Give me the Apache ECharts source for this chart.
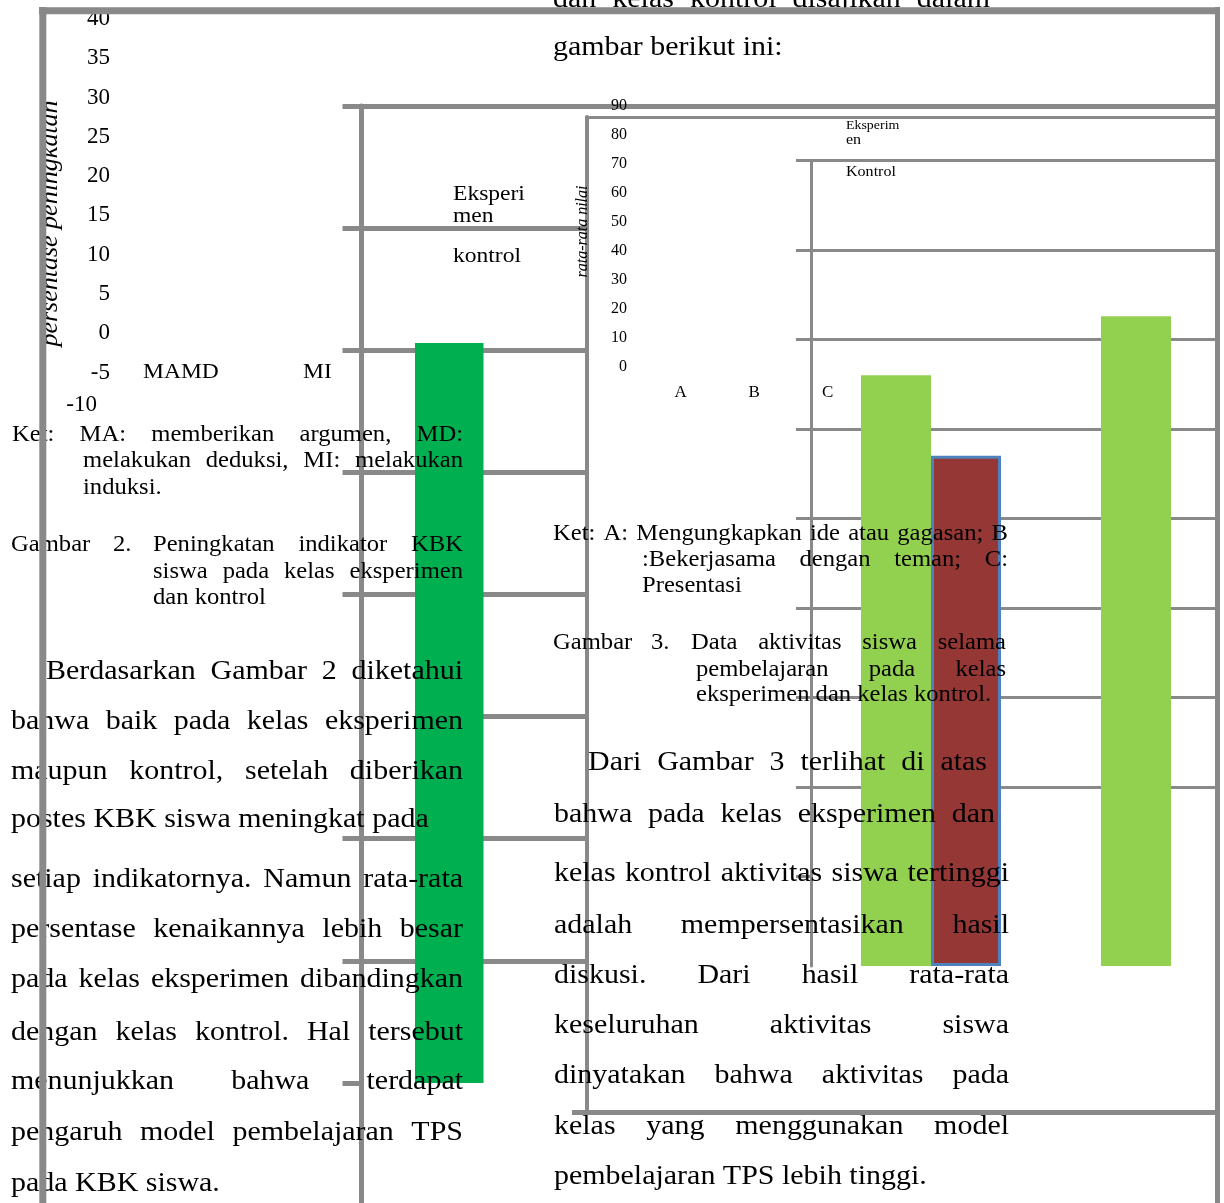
<!DOCTYPE html>
<html>
<head>
<meta charset="utf-8">
<script src="https://cdn.jsdelivr.net/npm/echarts@6/dist/echarts.min.js"></script>
<style>
  html, body { margin: 0; padding: 0; background: #fff; }
  #chart { width: 1224px; height: 1203px; }
</style>
</head>
<body>
<div id="chart"></div>
<script>
// ---- Gambar 2: persentase peningkatan indikator KBK ----
const kbkCategories = ['MA', 'MD', 'MI'];
const kbkEksperimen = [30.3, '-', '-'];
const kbkKontrol = ['-', '-', '-'];
const kbkScale = [-5, 40, 5];                 // min, max, step of the bar scale
const pctTickLabels = [-10, -5, 0, 5, 10, 15, 20, 25, 30, 35, 40];
const kbkLegend = ['Eksperi', 'men', 'kontrol'];

// ---- Gambar 3: rata-rata nilai aktivitas siswa ----
const aktivitasCategories = ['A', 'B', 'C'];
const aktivitasEksperimen = [66, 72.6, '-'];
const aktivitasKontrol = [57, '-', '-'];
const nilaiTicks = [0, 10, 20, 30, 40, 50, 60, 70, 80, 90];
const aktivitasLegend = ['Eksperim', 'en', 'Kontrol'];

const GRAY = '#898989';
const SERIF = '"Liberation Serif", "Times New Roman", serif';
const SX = 1.07;          // page text is set slightly wide
const BODY = 28, CAP = 23;

const measureCtx = document.createElement('canvas').getContext('2d');
function wordWidth(word, size, style) {
  measureCtx.font = (style || 'normal') + ' ' + size + 'px ' + SERIF;
  return measureCtx.measureText(word).width * SX;
}
function textEl(str, x, y, size, extra) {
  const o = Object.assign({ style: 'normal', rotation: 0, align: 'left', scale: SX, z: 8 }, extra || {});
  return {
    type: 'text', x: x, y: y, rotation: o.rotation, scaleX: o.scale, z: o.z, silent: true,
    style: {
      text: str, fontSize: size, fontFamily: SERIF, fontStyle: o.style, fill: '#000',
      align: o.align, verticalAlign: 'middle'
    }
  };
}
// one line of text; when x1 is given the words are spread to fill x0..x1
function textLine(str, x0, y, size, x1) {
  if (x1 == null) return [textEl(str, x0, y, size)];
  const words = str.split(/\s+/);
  const widths = words.map(w => wordWidth(w, size));
  const total = widths.reduce((a, b) => a + b, 0);
  const gap = words.length > 1 ? (x1 - x0 - total) / (words.length - 1) : 0;
  const out = [];
  let x = x0;
  words.forEach((w, i) => { out.push(textEl(w, x, y, size)); x += widths[i] + gap; });
  return out;
}

const lines = [
  // left column captions
  ['Ket: MA: memberikan argumen, MD:', 12, 435, CAP, 463],
  ['melakukan deduksi, MI: melakukan', 83, 461, CAP, 463],
  ['induksi.', 83, 488, CAP],
  ['Gambar', 11, 545, CAP], ['2.', 113, 545, CAP],
  ['Peningkatan indikator KBK', 153, 545, CAP, 463],
  ['siswa pada kelas eksperimen', 153, 572, CAP, 463],
  ['dan kontrol', 153, 598, CAP],
  // left column body
  ['Berdasarkan Gambar 2 diketahui', 46, 672, BODY, 463],
  ['bahwa baik pada kelas eksperimen', 11, 722, BODY, 463],
  ['maupun kontrol, setelah diberikan', 11, 772, BODY, 463],
  ['postes KBK siswa meningkat pada', 11, 820, BODY],
  ['setiap indikatornya. Namun rata-rata', 11, 880, BODY, 463],
  ['persentase kenaikannya lebih besar', 11, 930, BODY, 463],
  ['pada kelas eksperimen dibandingkan', 11, 980, BODY, 463],
  ['dengan kelas kontrol. Hal tersebut', 11, 1033, BODY, 463],
  ['menunjukkan bahwa terdapat', 11, 1082, BODY, 463],
  ['pengaruh model pembelajaran TPS', 11, 1133, BODY, 463],
  ['pada KBK siswa.', 11, 1184, BODY],
  // right column top
  ['dan kelas kontrol disajikan dalam', 553, 0, BODY, 990],
  ['gambar berikut ini:', 553, 48, BODY],
  // right column captions
  ['Ket: A: Mengungkapkan ide atau gagasan; B', 553, 534, CAP, 1008],
  [':Bekerjasama dengan teman; C:', 642, 560, CAP, 1008],
  ['Presentasi', 642, 586, CAP],
  ['Gambar', 553, 643, CAP], ['3.', 651, 643, CAP],
  ['Data aktivitas siswa selama', 691, 643, CAP, 1006],
  ['pembelajaran pada kelas', 696, 670, CAP, 1006],
  ['eksperimen dan kelas kontrol.', 696, 695, CAP],
  // right column body
  ['Dari Gambar 3 terlihat di atas', 588, 763, BODY, 987],
  ['bahwa pada kelas eksperimen dan', 554, 815, BODY, 995],
  ['kelas kontrol aktivitas siswa tertinggi', 554, 874, BODY, 1009],
  ['adalah mempersentasikan hasil', 554, 926, BODY, 1009],
  ['diskusi. Dari hasil rata-rata', 554, 976, BODY, 1009],
  ['keseluruhan aktivitas siswa', 554, 1026, BODY, 1009],
  ['dinyatakan bahwa aktivitas pada', 554, 1076, BODY, 1009],
  ['kelas yang menggunakan model', 554, 1127, BODY, 1009],
  ['pembelajaran TPS lebih tinggi.', 554, 1177, BODY]
];

const graphics = [];
// white plot panel of Gambar 3, laid over the KBK gridlines
graphics.push({ type: 'rect', z: 3, silent: true, shape: { x: 587, y: 117, width: 631, height: 995.5 }, style: { fill: '#fff' } });
// paragraph line masking the KBK gridline segment left of the bar (axis line stays visible)
graphics.push({ type: 'rect', z: 1.5, silent: true, shape: { x: 338, y: 712.5, width: 21, height: 7 }, style: { fill: '#fff' } });
graphics.push({ type: 'rect', z: 1.5, silent: true, shape: { x: 364.2, y: 712.5, width: 50.8, height: 7 }, style: { fill: '#fff' } });
lines.forEach(l => graphics.push(...textLine(l[0], l[1], l[2], l[3], l[4])));

// chart labels
const maW = wordWidth(kbkCategories[0], 22);
graphics.push(textEl(kbkCategories[0], 143, 372.6, 22));
graphics.push(textEl(kbkCategories[1], 143 + maW, 372.6, 22));
graphics.push(textEl(kbkCategories[2], 303, 372.6, 22));
graphics.push(textEl(kbkLegend[0], 453, 194, 22));
graphics.push(textEl(kbkLegend[1], 453, 216.6, 22));
graphics.push(textEl(kbkLegend[2], 453, 256, 22));
graphics.push(textEl(aktivitasLegend[0], 846, 125.5, 13));
graphics.push(textEl(aktivitasLegend[1], 846, 140, 15));
graphics.push(textEl(aktivitasLegend[2], 846, 171.7, 15));
graphics.push(textEl('persentase peningkatan', 50, 223.5, 26, { style: 'italic', rotation: Math.PI / 2, align: 'center', scale: 1 }));
graphics.push(textEl('rata-rata nilai', 583, 231.5, 16, { style: 'italic', rotation: Math.PI / 2, align: 'center', scale: 1 }));

// page frame
const frame = (x1, y1, x2, y2, w) => ({ type: 'line', z: 9, silent: true, shape: { x1, y1, x2, y2 }, style: { stroke: GRAY, lineWidth: w } });
graphics.push(frame(39, 10.8, 1220, 10.8, 7));
graphics.push(frame(42.8, 7, 42.8, 1203, 7));
graphics.push(frame(1217.5, 7, 1217.5, 1203, 5));
graphics.push({ type: 'rect', z: 9, silent: true, shape: { x: 1220, y: 0, width: 10, height: 1203 }, style: { fill: '#fff' } });

const hidden = { axisLine: { show: false }, axisTick: { show: false }, axisLabel: { show: false }, splitLine: { show: false } };
const kbkLineColors = [];
for (let v = kbkScale[0]; v <= kbkScale[1]; v += kbkScale[2]) kbkLineColors.push(v === 0 ? 'rgba(0,0,0,0)' : GRAY);
const nilaiLineColors = nilaiTicks.map(v => v === 0 ? 'rgba(0,0,0,0)' : GRAY);
const labelFont = { fontFamily: SERIF, color: '#000' };

const option = {
  animation: false,
  backgroundColor: '#fff',
  grid: [
    { left: 361.5, top: 106, width: 856.5, height: 1099, outerBoundsMode: 'none' },   // KBK bars
    { left: 587, top: 117, width: 631, height: 995.5, outerBoundsMode: 'none' },      // Gambar 3 frame
    { left: 811, top: 160.5, width: 720, height: 805.5, outerBoundsMode: 'none' },    // Gambar 3 bars
    { left: 118, top: 19, width: 200, height: 392.8, outerBoundsMode: 'none' },       // KBK tick labels
    { left: 644, top: 106, width: 220.5, height: 260.6, outerBoundsMode: 'none' }     // Gambar 3 tick labels
  ],
  xAxis: [
    Object.assign({ gridIndex: 0, type: 'category', data: kbkCategories, z: 1 }, hidden),
    Object.assign({ gridIndex: 1, type: 'value', min: 0, max: 1, position: 'bottom', z: 4 }, hidden,
      { axisLine: { show: true, onZero: false, lineStyle: { color: GRAY, width: 5 } } }),
    Object.assign({ gridIndex: 1, type: 'value', min: 0, max: 1, position: 'top', z: 4 }, hidden,
      { axisLine: { show: true, onZero: false, lineStyle: { color: GRAY, width: 3 } } }),
    Object.assign({ gridIndex: 2, type: 'category', data: aktivitasCategories, z: 5 }, hidden),
    Object.assign({ gridIndex: 3, type: 'value' }, hidden),
    Object.assign({ gridIndex: 4, type: 'category', data: aktivitasCategories, z: 7 }, hidden,
      { axisLabel: Object.assign({ show: true, interval: 0, margin: 26.4, verticalAlign: 'middle', fontSize: 17 }, labelFont) })
  ],
  yAxis: [
    {
      gridIndex: 0, type: 'value', min: kbkScale[0], max: kbkScale[1], interval: kbkScale[2], z: 1,
      axisLine: { show: true, onZero: false, lineStyle: { color: GRAY, width: 5 } },
      axisTick: { show: true, length: 19, lineStyle: { color: GRAY, width: 5 } },
      axisLabel: { show: false },
      splitLine: { show: true, lineStyle: { color: kbkLineColors, width: 5 } }
    },
    {
      gridIndex: 1, type: 'value', min: 0, max: 1, interval: 1, z: 4,
      axisLine: { show: true, onZero: false, lineStyle: { color: GRAY, width: 4 } },
      axisTick: { show: true, length: 15, customValues: [0], lineStyle: { color: GRAY, width: 5 } },
      axisLabel: { show: false },
      splitLine: { show: false }
    },
    {
      gridIndex: 2, type: 'value', min: nilaiTicks[0], max: nilaiTicks[nilaiTicks.length - 1], interval: 10, z: 5,
      axisLine: { show: true, onZero: false, lineStyle: { color: GRAY, width: 3 } },
      axisTick: { show: true, length: 15, customValues: nilaiTicks.slice(1), lineStyle: { color: GRAY, width: 3 } },
      axisLabel: { show: false },
      splitLine: { show: true, lineStyle: { color: nilaiLineColors, width: 3 } }
    },
    Object.assign({
      gridIndex: 3, type: 'value', min: pctTickLabels[0], max: pctTickLabels[pctTickLabels.length - 1],
      interval: pctTickLabels[1] - pctTickLabels[0], z: 7
    }, hidden, {
      axisLabel: Object.assign({
        show: true, margin: 8, fontSize: 23,
        formatter: v => v === pctTickLabels[0] ? '{low|' + v + '}' : String(v),
        rich: { low: Object.assign({ fontSize: 23, padding: [0, 13, 14, 0] }, labelFont) }
      }, labelFont)
    }),
    Object.assign({
      gridIndex: 4, type: 'value', min: nilaiTicks[0], max: nilaiTicks[nilaiTicks.length - 1], interval: 10, z: 7
    }, hidden, {
      axisLabel: Object.assign({ show: true, margin: 17, fontSize: 16 }, labelFont)
    })
  ],
  series: [
    { name: 'Eksperimen', type: 'bar', xAxisIndex: 0, yAxisIndex: 0, data: kbkEksperimen,
      barWidth: 68.5, barGap: '60.6%', itemStyle: { color: '#00B050' }, z: 2 },
    { name: 'kontrol', type: 'bar', xAxisIndex: 0, yAxisIndex: 0, data: kbkKontrol,
      barWidth: 68.5, itemStyle: { color: '#C0504D' }, z: 2 },
    { name: 'Eksperimen', type: 'bar', xAxisIndex: 3, yAxisIndex: 2, data: aktivitasEksperimen,
      barWidth: 70, barGap: '0%', itemStyle: { color: '#92D050' }, z: 6 },
    { name: 'Kontrol', type: 'bar', xAxisIndex: 3, yAxisIndex: 2, data: aktivitasKontrol,
      barWidth: 70, itemStyle: { color: '#953735', borderColor: '#4F81BD', borderWidth: 3 }, z: 6 }
  ],
  graphic: { elements: graphics }
};

const chart = echarts.init(document.getElementById('chart'));
chart.setOption(option);
</script>
</body>
</html>
